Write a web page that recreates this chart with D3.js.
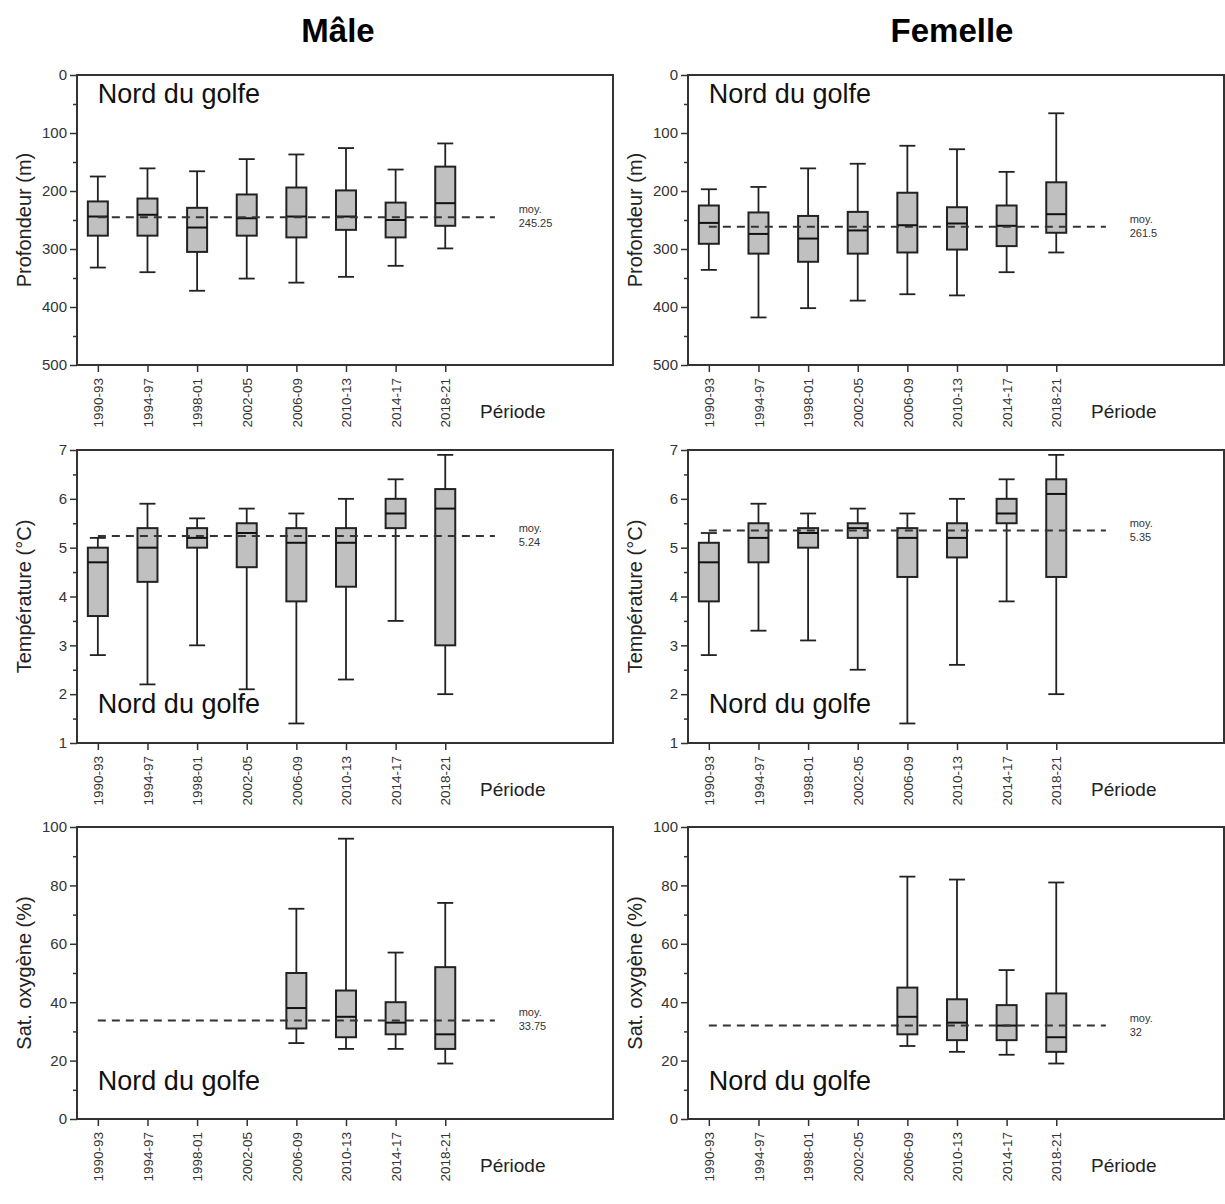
<html>
<head>
<meta charset="utf-8">
<style>
  body { margin: 0; background: #fff; }
  text { font-family: "Liberation Sans", Arial, sans-serif; fill: #222; }
</style>
</head>
<body>
<script src="https://d3js.org/d3.v7.min.js"></script>
<script>
var width = 1225, height = 1204;

var periods = ["1990-93", "1994-97", "1998-01", "2002-05", "2006-09", "2010-13", "2014-17", "2018-21"];

// each entry: [whisker low, q1, median, q3, whisker high]
var depthMale = [[175,218,244,277,332],[161,213,241,277,340],[166,229,263,305,372],[145,206,247,277,351],
                 [137,194,244,280,358],[126,199,244,267,348],[163,220,250,280,329],[118,158,221,260,299]];
var depthFemale = [[197,225,255,291,336],[193,237,274,308,418],[161,243,282,322,402],[153,236,268,308,389],
                   [122,203,259,306,378],[128,228,256,301,380],[167,225,260,295,340],[66,185,240,272,306]];
var tempMale = [[2.8,3.6,4.7,5.0,5.2],[2.2,4.3,5.0,5.4,5.9],[3.0,5.0,5.2,5.4,5.6],[2.1,4.6,5.3,5.5,5.8],
                [1.4,3.9,5.1,5.4,5.7],[2.3,4.2,5.1,5.4,6.0],[3.5,5.4,5.7,6.0,6.4],[2.0,3.0,5.8,6.2,6.9]];
var tempFemale = [[2.8,3.9,4.7,5.1,5.3],[3.3,4.7,5.2,5.5,5.9],[3.1,5.0,5.3,5.4,5.7],[2.5,5.2,5.4,5.5,5.8],
                  [1.4,4.4,5.2,5.4,5.7],[2.6,4.8,5.2,5.5,6.0],[3.9,5.5,5.7,6.0,6.4],[2.0,4.4,6.1,6.4,6.9]];
var oxyMale = [null, null, null, null,
               [26,31,38,50,72],[24,28,35,44,96],[24,29,33,40,57],[19,24,29,52,74]];
var oxyFemale = [null, null, null, null,
                 [25,29,35,45,83],[23,27,33,41,82],[22,27,32,39,51],[19,23,28,43,81]];

var meansMale = [245.25, 5.24, 33.75];
var meansFemale = [261.5, 5.35, 32];
var meanLabels = ["245.25", "5.24", "33.75", "261.5", "5.35", "32"];

var svg = d3.select("body").append("svg")
    .attr("width", width)
    .attr("height", height);

svg.append("text").attr("x", 338).attr("y", 42).attr("text-anchor", "middle")
    .style("font-size", "33px").style("font-weight", "bold").style("fill", "#000").text("Mâle");
svg.append("text").attr("x", 952).attr("y", 42).attr("text-anchor", "middle")
    .style("font-size", "33px").style("font-weight", "bold").style("fill", "#000").text("Femelle");

var rows = [
    { top: 75, bottom: 365, domain: [0, 500], majors: d3.range(0, 501, 100), minors: d3.range(50, 500, 100),
      label: "Profondeur (m)", regionY: 103, fmt: d3.format("d") },
    { top: 450, bottom: 743, domain: [1, 7], majors: d3.range(1, 8, 1), minors: d3.range(1.5, 7, 1),
      label: "Température (°C)", regionY: 713, fmt: d3.format("d") },
    { top: 827, bottom: 1119, domain: [0, 100], majors: d3.range(0, 101, 20), minors: d3.range(10, 100, 20),
      label: "Sat. oxygène (%)", regionY: 1090, fmt: d3.format("d") }
];

var cols = [
    { left: 77, data: [depthMale, tempMale, oxyMale], means: meansMale, labelIdx: 0 },
    { left: 688, data: [depthFemale, tempFemale, oxyFemale], means: meansFemale, labelIdx: 3 }
];

var plotW = 536;

cols.forEach(function (col, ci) {
    rows.forEach(function (row, ri) {
        drawPanel(col, row, ri, col.data[ri], col.means[ri], meanLabels[col.labelIdx + ri]);
    });
});

function drawPanel(col, row, ri, data, mean, meanText) {
    var g = svg.append("g");
    var x = d3.scaleLinear().domain([-0.42, 10.38]).range([col.left, col.left + plotW]);
    var y = d3.scaleLinear().domain(row.domain);
    // depth axis is reversed (0 on top)
    if (ri === 0) y.range([row.top, row.bottom]);
    else y.range([row.bottom, row.top]);

    // frame
    g.append("rect")
        .attr("x", col.left).attr("y", row.top)
        .attr("width", plotW).attr("height", row.bottom - row.top)
        .attr("fill", "none").attr("stroke", "#333").attr("stroke-width", 2);

    // y axis major + minor
    var yAx = g.append("g").attr("transform", "translate(" + col.left + ",0)")
        .call(d3.axisLeft(y).tickValues(row.majors).tickSize(7).tickPadding(3).tickFormat(row.fmt));
    yAx.select(".domain").remove();
    yAx.selectAll("line").attr("stroke", "#333").attr("stroke-width", 1.5);
    yAx.selectAll("text").style("font-size", "15px").style("fill", "#333").style("font-family", "Liberation Sans, Arial, sans-serif");

    var yMin = g.append("g").attr("transform", "translate(" + col.left + ",0)")
        .call(d3.axisLeft(y).tickValues(row.minors).tickSize(4).tickFormat(""));
    yMin.select(".domain").remove();
    yMin.selectAll("line").attr("stroke", "#333").attr("stroke-width", 1.5);

    // x axis
    var xAx = g.append("g").attr("transform", "translate(0," + row.bottom + ")")
        .call(d3.axisBottom(x).tickValues(d3.range(periods.length)).tickSize(7)
            .tickFormat(function (i) { return periods[i]; }));
    xAx.select(".domain").remove();
    xAx.selectAll("line").attr("stroke", "#333").attr("stroke-width", 1.5);
    xAx.selectAll("text")
        .attr("transform", "rotate(-90)")
        .attr("text-anchor", "end")
        .attr("x", -13).attr("y", 0).attr("dy", "0.35em")
        .style("font-size", "13.5px").style("fill", "#333")
        .style("font-family", "Liberation Sans, Arial, sans-serif");

    g.append("text")
        .attr("x", x(7.7)).attr("y", row.bottom + 53)
        .style("font-size", "19px").text("Période");

    // y label
    g.append("text")
        .attr("transform", "translate(" + (col.left - 46) + "," + ((row.top + row.bottom) / 2) + ") rotate(-90)")
        .attr("text-anchor", "middle")
        .style("font-size", "20px").text(row.label);

    // region label
    g.append("text")
        .attr("x", x(0)).attr("y", row.regionY)
        .style("font-size", "27px").style("fill", "#111").text("Nord du golfe");

    // boxes
    var bw = 20, cw = 16;
    var items = data.map(function (d, i) { return { i: i, d: d }; }).filter(function (o) { return o.d; });
    var bx = g.selectAll("g.box").data(items).enter().append("g").attr("class", "box");

    bx.append("line")
        .attr("x1", function (o) { return x(o.i); }).attr("x2", function (o) { return x(o.i); })
        .attr("y1", function (o) { return y(o.d[0]); }).attr("y2", function (o) { return y(o.d[4]); })
        .attr("stroke", "#222").attr("stroke-width", 1.8);
    [0, 4].forEach(function (k) {
        bx.append("line")
            .attr("x1", function (o) { return x(o.i) - cw / 2; }).attr("x2", function (o) { return x(o.i) + cw / 2; })
            .attr("y1", function (o) { return y(o.d[k]); }).attr("y2", function (o) { return y(o.d[k]); })
            .attr("stroke", "#222").attr("stroke-width", 1.8);
    });
    bx.append("rect")
        .attr("x", function (o) { return x(o.i) - bw / 2; })
        .attr("width", bw)
        .attr("y", function (o) { return Math.min(y(o.d[1]), y(o.d[3])); })
        .attr("height", function (o) { return Math.abs(y(o.d[3]) - y(o.d[1])); })
        .attr("fill", "#c0c0c0").attr("stroke", "#222").attr("stroke-width", 2);
    bx.append("line")
        .attr("x1", function (o) { return x(o.i) - bw / 2; }).attr("x2", function (o) { return x(o.i) + bw / 2; })
        .attr("y1", function (o) { return y(o.d[2]); }).attr("y2", function (o) { return y(o.d[2]); })
        .attr("stroke", "#111").attr("stroke-width", 2);

    // mean line
    g.append("line")
        .attr("x1", x(0)).attr("x2", x(8))
        .attr("y1", y(mean)).attr("y2", y(mean))
        .attr("stroke", "#333").attr("stroke-width", 2)
        .attr("stroke-dasharray", "8,6");
    g.append("text").attr("x", x(8.48)).attr("y", y(mean) - 4)
        .style("font-size", "11px").style("fill", "#333").text("moy.");
    g.append("text").attr("x", x(8.48)).attr("y", y(mean) + 10)
        .style("font-size", "11px").style("fill", "#333").text(meanText);
}
</script>
</body>
</html>
